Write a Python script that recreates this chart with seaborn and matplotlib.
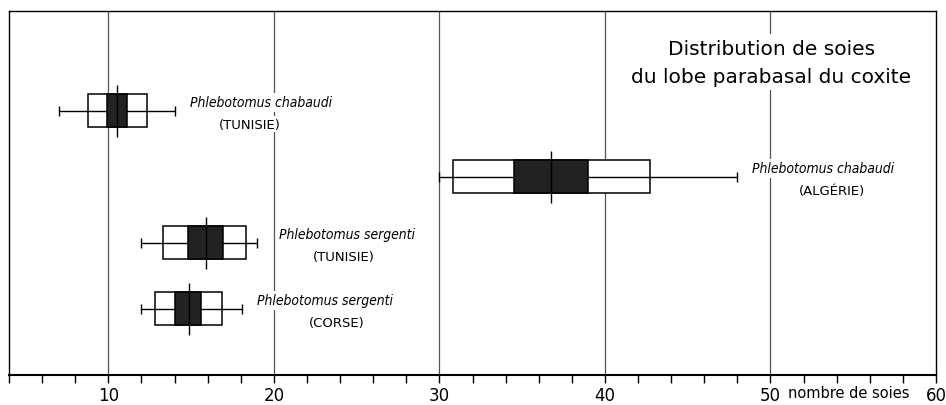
import matplotlib
matplotlib.use("Agg")
import matplotlib.pyplot as plt
import seaborn as sns
import numpy as np

# ---- data ----
species = ["Phlebotomus chabaudi", "Phlebotomus chabaudi",
           "Phlebotomus sergenti", "Phlebotomus sergenti"]
countries = ["(TUNISIE)", "(ALGÉRIE)", "(TUNISIE)", "(CORSE)"]
range_min = [7.05, 30.0, 12.0, 12.0]
range_max = [14.05, 48.0, 19.0, 18.1]
sd_low = [8.75, 30.8, 13.3, 12.85]
sd_high = [12.35, 42.7, 18.3, 16.85]
ci_low = [9.95, 34.5, 14.8, 14.05]
ci_high = [11.15, 39.0, 16.95, 15.6]
means = [10.55, 36.75, 15.9, 14.85]

x_ticks = [10, 20, 30, 40, 50, 60]
x_label = "nombre de soies"
title_lines = ["Distribution de soies", "du lobe parabasal du coxite"]

# ---- layout ----
sns.set_theme(style="white")
plt.rcParams["font.family"] = ["DejaVu Sans"]
plt.rcParams["text.color"] = "black"
plt.rcParams["xtick.color"] = "black"
plt.rcParams["xtick.labelcolor"] = "black"

fig = plt.figure(figsize=(9.46, 4.06), dpi=100)
ax = fig.add_axes([9 / 946, 30 / 406, (936 - 9) / 946, (376 - 12) / 406])

ypos = np.arange(len(species))
box_h = 0.5

# grid lines
for t in x_ticks[:-1]:
    ax.axvline(t, color="#555555", lw=0.9, zorder=0)

# whiskers
ax.hlines(ypos, range_min, range_max, color="black", lw=1.0, zorder=2)
ax.vlines(range_min, ypos - 0.08, ypos + 0.08, color="black", lw=1.0, zorder=2)
ax.vlines(range_max, ypos - 0.08, ypos + 0.08, color="black", lw=1.0, zorder=2)

# outer boxes (white)
sd_w = np.array(sd_high) - np.array(sd_low)
ax.barh(ypos, sd_w, left=sd_low, height=box_h, color="white",
        edgecolor="black", lw=1.1, zorder=3)
ax.hlines(ypos, sd_low, sd_high, color="black", lw=1.0, zorder=4)
# inner boxes (black)
ci_w = np.array(ci_high) - np.array(ci_low)
ax.barh(ypos, ci_w, left=ci_low, height=box_h, color="#222222",
        edgecolor="black", lw=1.1, zorder=5)
# mean ticks
ax.vlines(means, ypos - 0.4, ypos + 0.4, color="black", lw=1.0, zorder=6)

# labels
name_dx = [0.9, 0.9, 1.3, 0.9]
country_dx = [3.6, 4.8, 3.9, 4.8]
for i in range(len(species)):
    x0 = range_max[i] + name_dx[i]
    ax.text(x0, ypos[i] - 0.13, species[i], style="italic", fontsize=10,
            fontstretch="condensed",
            ha="left", va="center", zorder=7,
            bbox=dict(facecolor="white", edgecolor="none", pad=2))
    ax.text(x0 + country_dx[i], ypos[i] + 0.2, countries[i], fontsize=9.5,
            ha="center", va="center", zorder=7,
            bbox=dict(facecolor="white", edgecolor="none", pad=1))

ax.text(50.05, -0.74, title_lines[0] + "\n" + title_lines[1], fontsize=14.5,
        ha="center", va="center", linespacing=1.6, zorder=7,
        bbox=dict(facecolor="white", edgecolor="none", pad=3))

ax.set_xlim(4, 60)
ax.set_ylim(4.0, -1.515)
ax.set_yticks([])
ax.set_xticks(x_ticks)
ax.set_xticklabels([str(t) for t in x_ticks], fontsize=12)
ax.set_xticks(np.arange(4, 61, 2), minor=True)
ax.tick_params(axis="x", which="both", direction="out", length=6,
               width=1.0, color="black", bottom=True, pad=2)
ax.text(54.7, -0.047, x_label, transform=ax.get_xaxis_transform(),
        fontsize=10.5, ha="center", va="center")

for s in ax.spines.values():
    s.set_color("black")
    s.set_linewidth(1.0)
ax.spines["bottom"].set_linewidth(1.5)

fig.savefig("out.png", dpi=100)
